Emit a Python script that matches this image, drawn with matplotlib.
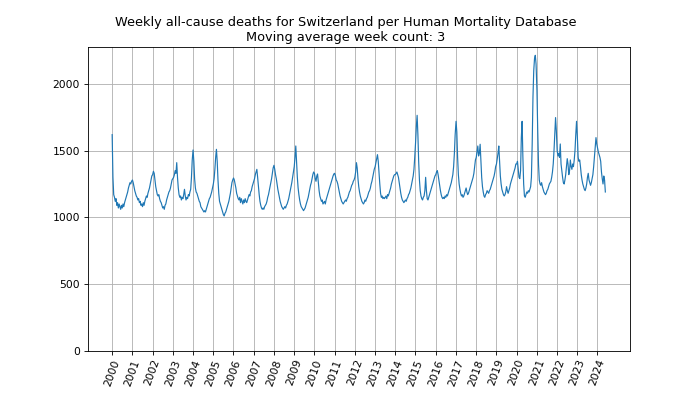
import matplotlib
matplotlib.use("Agg")
import matplotlib.pyplot as plt
import matplotlib.dates as mdates
import pandas as pd

# deaths, two samples per month-ish (26 per year)
deaths = [
    1620, 1300, 1170, 1150, 1120, 1140, 1090, 1110, 1070, 1100, 1080, 1060, 1090, 1070, 1100, 1080, 1110, 1130, 1150, 1170, 1190, 1220, 1240, 1260, 1250, 1270,  # 2000
    1280, 1260, 1230, 1200, 1180, 1160, 1150, 1130, 1140, 1110, 1120, 1090, 1100, 1080, 1110, 1090, 1120, 1140, 1160, 1150, 1180, 1200, 1220, 1250, 1280, 1310,  # 2001
    1320, 1345, 1330, 1280, 1230, 1200, 1170, 1160, 1170, 1140, 1120, 1110, 1090, 1070, 1080, 1060, 1090, 1100, 1130, 1150, 1170, 1190, 1200, 1220, 1250, 1280,  # 2002
    1290, 1300, 1320, 1350, 1330, 1410, 1300, 1220, 1170, 1150, 1160, 1130, 1150, 1140, 1170, 1210, 1160, 1130, 1150, 1140, 1170, 1160, 1190, 1210, 1300, 1430,  # 2003
    1505, 1420, 1290, 1220, 1190, 1180, 1160, 1140, 1120, 1110, 1080, 1070, 1060, 1050, 1040, 1050, 1040, 1060, 1080, 1100, 1120, 1140, 1150, 1170, 1190, 1220,  # 2004
    1250, 1290, 1360, 1450, 1510, 1420, 1280, 1180, 1120, 1100, 1080, 1060, 1040, 1020, 1010, 1030, 1040, 1060, 1080, 1100, 1120, 1150, 1180, 1220, 1260, 1280,  # 2005
    1295, 1280, 1250, 1220, 1180, 1160, 1140, 1130, 1150, 1110, 1140, 1120, 1100, 1130, 1110, 1140, 1120, 1110, 1130, 1150, 1170, 1160, 1190, 1200, 1230, 1250,  # 2006
    1270, 1290, 1320, 1340, 1360, 1300, 1230, 1170, 1120, 1090, 1070, 1060, 1070, 1060, 1080, 1090, 1100, 1120, 1150, 1170, 1200, 1230, 1260, 1290, 1330, 1370,  # 2007
    1390, 1360, 1320, 1290, 1250, 1210, 1180, 1150, 1120, 1100, 1080, 1070, 1060, 1070, 1080, 1070, 1090, 1100, 1120, 1140, 1170, 1200, 1230, 1260, 1300, 1340,  # 2008
    1380, 1450, 1535, 1420, 1300, 1220, 1170, 1130, 1100, 1080, 1070, 1060, 1050, 1060, 1070, 1090, 1110, 1130, 1150, 1180, 1210, 1240, 1260, 1290, 1320, 1340,  # 2009
    1330, 1290, 1270, 1310, 1325, 1260, 1200, 1160, 1140, 1120, 1130, 1100, 1110, 1120, 1100, 1130, 1150, 1170, 1190, 1210, 1230, 1250, 1270, 1290, 1310, 1325,  # 2010
    1330, 1310, 1280, 1270, 1250, 1220, 1190, 1160, 1140, 1120, 1110, 1100, 1110, 1120, 1130, 1120, 1140, 1150, 1170, 1190, 1200, 1220, 1240, 1250, 1270, 1280,  # 2011
    1300, 1340, 1410, 1370, 1290, 1230, 1190, 1160, 1140, 1120, 1110, 1100, 1110, 1130, 1120, 1140, 1150, 1170, 1190, 1200, 1220, 1250, 1270, 1300, 1330, 1360,  # 2012
    1380, 1410, 1440, 1470, 1420, 1330, 1250, 1180, 1150, 1160, 1140, 1150, 1140, 1150, 1160, 1140, 1170, 1160, 1180, 1200, 1220, 1250, 1270, 1290, 1310, 1320,  # 2013
    1320, 1330, 1340, 1320, 1300, 1260, 1220, 1180, 1150, 1130, 1120, 1110, 1120, 1130, 1120, 1140, 1150, 1170, 1180, 1200, 1220, 1250, 1280, 1310, 1360, 1450,  # 2014
    1560, 1680, 1765, 1620, 1420, 1280, 1200, 1160, 1140, 1130, 1150, 1160, 1200, 1300, 1200, 1140, 1130, 1150, 1170, 1190, 1210, 1230, 1250, 1270, 1290, 1310,  # 2015
    1320, 1340, 1350, 1320, 1280, 1240, 1200, 1170, 1150, 1140, 1150, 1140, 1160, 1150, 1170, 1160, 1180, 1200, 1220, 1240, 1260, 1290, 1320, 1380, 1480, 1620,  # 2016
    1720, 1640, 1450, 1320, 1250, 1210, 1180, 1160, 1170, 1150, 1160, 1180, 1200, 1220, 1190, 1170, 1180, 1200, 1220, 1240, 1260, 1280, 1300, 1330, 1380, 1430,  # 2017
    1450, 1490, 1535, 1460, 1480, 1548, 1420, 1300, 1230, 1190, 1160, 1150, 1170, 1180, 1200, 1190, 1180, 1200, 1210, 1230, 1250, 1270, 1290, 1310, 1340, 1380,  # 2018
    1400, 1440, 1480, 1535, 1420, 1310, 1250, 1210, 1190, 1170, 1160, 1170, 1190, 1230, 1200, 1180, 1200, 1220, 1250, 1270, 1290, 1310, 1330, 1350, 1370, 1400,  # 2019
    1400, 1420, 1360, 1300, 1290, 1350, 1600, 1720, 1450, 1250, 1160, 1150, 1170, 1190, 1180, 1200, 1190, 1210, 1230, 1300, 1550, 1900, 2100, 2190, 2215, 2150,  # 2020
    1950, 1650, 1400, 1280, 1250, 1240, 1260, 1230, 1210, 1190, 1180, 1170, 1180, 1200, 1210, 1230, 1250, 1260, 1270, 1300, 1340, 1400, 1500, 1620, 1748, 1650,  # 2021
    1500, 1460, 1480, 1450, 1550, 1400, 1350, 1300, 1260, 1250, 1280, 1320, 1380, 1440, 1400, 1320, 1350, 1430, 1380, 1360, 1400, 1380, 1430, 1500, 1620, 1720,  # 2022
    1600, 1450, 1420, 1430, 1380, 1320, 1280, 1250, 1230, 1210, 1200, 1220, 1250, 1300, 1330, 1280, 1260, 1240, 1260, 1290, 1320, 1380, 1450, 1530, 1598, 1550,  # 2023
    1520, 1490, 1470, 1450, 1420, 1340, 1290, 1250, 1310, 1280, 1190,  # 2024
]
first_year = 2000
per_year = 26
tick_years = list(range(2000, 2025))

dates = [pd.Timestamp(first_year + k // per_year, 1, 3) + pd.Timedelta(days=14 * (k % per_year))
         for k in range(len(deaths))]

fig, ax = plt.subplots(figsize=(700 / 77, 394 / 77), dpi=77)
ax.plot(dates, deaths, linewidth=1.1)
ax.set_ylim(bottom=0)
ax.set_xticks([pd.Timestamp(y, 1, 1) for y in tick_years])
ax.xaxis.set_major_formatter(mdates.DateFormatter("%Y"))
plt.xticks(rotation=70)
ax.grid(True)
ax.set_title("Weekly all-cause deaths for Switzerland per Human Mortality Database\nMoving average week count: 3",
             x=0.476)

plt.savefig("out.png")
